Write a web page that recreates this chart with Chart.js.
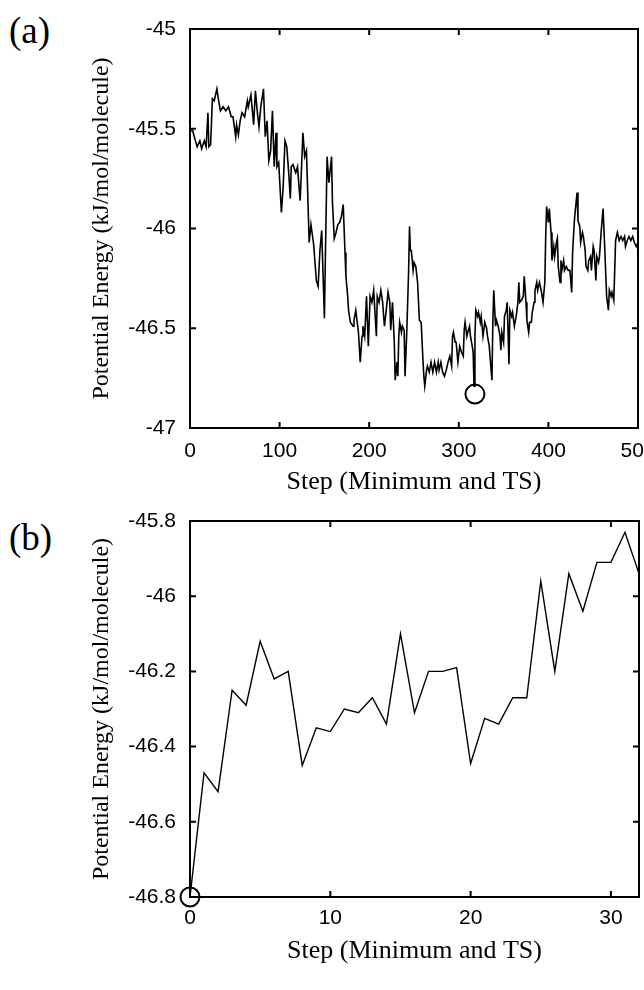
<!DOCTYPE html>
<html>
<head>
<meta charset="utf-8">
<script src="https://cdn.jsdelivr.net/npm/chart.js@4.4.0/dist/chart.umd.min.js"></script>
<style>
  html, body { margin: 0; padding: 0; background: #fff; overflow: hidden; }
  body { width: 644px; height: 990px; position: relative; }
  canvas { position: absolute; left: 0; }
  .tag { position: absolute; left: 9px; font: 37px "Liberation Serif", serif; line-height: 1; color: #000; }
</style>
</head>
<body>
<div class="tag" style="top:12px">(a)</div>
<div class="tag" style="top:519px">(b)</div>
<canvas id="panelA" width="700" height="500" style="top:0"></canvas>
<canvas id="panelB" width="700" height="500" style="top:480px"></canvas>
<script>
// (a) energy along the path
const stepA = [0,3,6,8,11,13,16,18,20,21,23,25,27,30,32,34,37,40,43,46,48,51,52,54,56,58,61,64,65,68,71,73,75,77,79,82,84,86,88,90,92,94,96,97,99,
  102,104,106,108,110,112,113,115,118,120,122,123,126,128,130,133,135,138,139,141,143,145,147,150,151,153,155,158,159,161,163,165,167,169,171,173,174,176,177,179,182,183,185,188,190,192,193,195,197,199,
  201,203,205,208,209,211,213,215,217,219,221,223,224,226,228,229,231,232,233,234,236,237,239,240,242,244,245,246,247,249,250,252,254,256,258,260,261,262,264,265,267,269,271,273,275,277,278,280,282,284,286,288,290,292,293,294,296,297,299,
  301,303,305,306,307,309,310,312,313,315,316,317,318,319,321,322,324,325,327,329,331,332,334,335,337,338,339,341,342,344,346,347,348,350,351,353,354,356,357,359,360,362,364,366,367,368,370,372,373,375,376,378,379,381,382,384,385,387,388,390,392,394,396,397,398,
  400,401,403,404,406,407,409,410,411,413,414,415,417,418,420,422,424,426,427,429,430,432,433,435,436,438,439,441,442,444,445,447,448,450,451,453,454,456,457,459,461,463,465,467,468,470,471,473,475,477,479,481,483,485,486,488,490,492,494,496,498,500];
const energyA = [-45.51,-45.51,-45.56,-45.59,-45.56,-45.60,-45.56,-45.59,-45.42,-45.59,-45.58,-45.35,-45.36,-45.30,-45.36,-45.41,-45.39,-45.41,-45.39,-45.44,-45.44,-45.54,-45.48,-45.53,-45.46,-45.42,-45.44,-45.36,-45.39,-45.33,-45.48,-45.31,-45.41,-45.49,-45.39,-45.30,-45.54,-45.46,-45.66,-45.61,-45.41,-45.69,-45.52,-45.69,-45.67,
  -45.92,-45.79,-45.56,-45.59,-45.71,-45.85,-45.69,-45.68,-45.72,-45.69,-45.81,-45.86,-45.52,-45.64,-45.61,-46.07,-45.98,-46.08,-46.14,-46.26,-46.29,-46.11,-46.01,-46.45,-46.17,-45.64,-45.77,-45.64,-45.87,-46.05,-46.02,-45.98,-45.97,-45.94,-45.88,-46.12,-46.24,-46.34,-46.41,-46.47,-46.49,-46.46,-46.41,-46.52,-46.67,-46.54,-46.49,-46.54,-46.34,-46.59,
  -46.34,-46.37,-46.31,-46.54,-46.34,-46.37,-46.31,-46.37,-46.49,-46.41,-46.32,-46.37,-46.51,-46.37,-46.57,-46.76,-46.67,-46.74,-46.54,-46.47,-46.52,-46.49,-46.51,-46.74,-46.51,-46.21,-45.99,-46.11,-46.11,-46.21,-46.17,-46.19,-46.27,-46.46,-46.47,-46.66,-46.74,-46.79,-46.71,-46.69,-46.72,-46.67,-46.72,-46.67,-46.72,-46.67,-46.71,-46.67,-46.72,-46.74,-46.71,-46.67,-46.64,-46.69,-46.54,-46.52,-46.57,-46.57,-46.67,
  -46.59,-46.62,-46.64,-46.51,-46.47,-46.54,-46.52,-46.49,-46.54,-46.59,-46.62,-46.79,-46.54,-46.41,-46.44,-46.42,-46.47,-46.44,-46.54,-46.47,-46.50,-46.54,-46.59,-46.65,-46.76,-46.47,-46.31,-46.49,-46.46,-46.49,-46.54,-46.61,-46.52,-46.57,-46.44,-46.41,-46.37,-46.68,-46.41,-46.44,-46.42,-46.49,-46.44,-46.37,-46.27,-46.37,-46.36,-46.34,-46.24,-46.37,-46.46,-46.52,-46.47,-46.47,-46.42,-46.37,-46.31,-46.27,-46.31,-46.27,-46.31,-46.37,-46.27,-46.04,-45.89,
  -45.97,-45.90,-46.02,-46.16,-46.09,-46.14,-46.07,-46.05,-46.19,-46.27,-46.16,-46.21,-46.16,-46.21,-46.19,-46.21,-46.21,-46.32,-46.12,-45.96,-45.91,-45.82,-45.96,-45.99,-46.07,-46.02,-46.04,-46.11,-46.19,-46.21,-46.16,-46.14,-46.21,-46.09,-46.11,-46.26,-46.14,-46.17,-46.14,-46.01,-45.90,-46.11,-46.34,-46.41,-46.31,-46.34,-46.32,-46.36,-46.06,-46.02,-46.06,-46.04,-46.06,-46.04,-46.09,-46.06,-46.04,-46.06,-46.04,-46.07,-46.09,-46.07];
const markStepA = [318];
const markEnergyA = [-46.83];
const xTicksA = [0, 100, 200, 300, 400, 500];
const yTicksA = [-47, -46.5, -46, -45.5, -45];

// (b) minimum / TS sequence
const stepB = [0,1,2,3,4,5,6,7,8,9,10,11,12,13,14,15,16,17,18,19,20,21,22,23,24,25,26,27,28,29,30,31,32];
const energyB = [-46.80,-46.47,-46.52,-46.25,-46.29,-46.12,-46.22,-46.20,-46.45,-46.35,-46.36,-46.30,-46.31,-46.27,-46.34,-46.10,-46.31,-46.20,-46.20,-46.19,-46.445,-46.325,-46.34,-46.27,-46.27,-45.96,-46.20,-45.94,-46.04,-45.91,-45.91,-45.83,-45.94];
const markStepB = [0];
const markEnergyB = [-46.8];
const xTicksB = [0, 10, 20, 30];
const yTicksB = [-46.8, -46.6, -46.4, -46.2, -46, -45.8];

const tickFont = { family: "'Liberation Sans', Arial, sans-serif", size: 21 };
const fmt = v => String(Number(v.toFixed(2)));

// box around the plot with inward ticks on all four sides
const frame = {
  id: 'frame',
  beforeDatasetsDraw(chart) {
    const { ctx, chartArea: a, scales: { x, y } } = chart;
    ctx.save();
    ctx.strokeStyle = '#000';
    ctx.lineWidth = 2;
    ctx.strokeRect(a.left, a.top, a.right - a.left, a.bottom - a.top);
    ctx.beginPath();
    x.ticks.forEach(t => {
      const p = x.getPixelForValue(t.value);
      ctx.moveTo(p, a.bottom); ctx.lineTo(p, a.bottom - 6);
      ctx.moveTo(p, a.top); ctx.lineTo(p, a.top + 6);
    });
    y.ticks.forEach(t => {
      const p = y.getPixelForValue(t.value);
      ctx.moveTo(a.left, p); ctx.lineTo(a.left + 6, p);
      ctx.moveTo(a.right, p); ctx.lineTo(a.right - 6, p);
    });
    ctx.stroke();
    ctx.restore();
  }
};

function makePanel(id, o) {
  return new Chart(document.getElementById(id), {
    type: 'line',
    data: {
      datasets: [
        {
          data: o.steps.map((s, i) => ({ x: s, y: o.energy[i] })),
          borderColor: '#000', borderWidth: o.lw, pointRadius: 0, tension: 0, fill: false
        },
        {
          data: o.markX.map((s, i) => ({ x: s, y: o.markY[i] })),
          showLine: false, pointRadius: 9.5, pointBorderWidth: 2,
          pointBorderColor: '#000', pointBackgroundColor: 'rgba(0,0,0,0)', clip: false
        }
      ]
    },
    options: {
      responsive: false,
      animation: false,
      events: [],
      layout: { padding: o.pad },
      plugins: { legend: { display: false }, tooltip: { enabled: false } },
      scales: {
        x: {
          type: 'linear', min: o.xmin, max: o.xmax,
          afterBuildTicks: s => { s.ticks = o.xTicks.map(v => ({ value: v })); },
          afterFit: s => { s.height = o.xh; },
          grid: { display: false, drawTicks: false }, border: { display: false },
          ticks: { padding: o.xpad, font: tickFont, color: '#000', autoSkip: false, maxRotation: 0, callback: fmt },
          title: {
            display: true, text: 'Step (Minimum and TS)', color: '#000',
            font: { family: "'Liberation Serif', 'Times New Roman', serif", size: 26, lineHeight: 1 },
            padding: { top: 0, bottom: o.tpad }
          }
        },
        y: {
          type: 'linear', min: o.ymin, max: o.ymax,
          afterBuildTicks: s => { s.ticks = o.yTicks.map(v => ({ value: v })); },
          afterFit: s => { s.width = 190; },
          grid: { display: false, drawTicks: false }, border: { display: false },
          ticks: { padding: 14, font: tickFont, color: '#000', autoSkip: false, callback: fmt },
          title: {
            display: true, text: 'Potential Energy (kJ/mol/molecule)', color: '#000',
            font: { family: "'Liberation Serif', 'Times New Roman', serif", size: 24, lineHeight: 1 },
            padding: { top: 90, bottom: 0 }
          }
        }
      }
    },
    plugins: [frame]
  });
}

makePanel('panelA', {
  steps: stepA, energy: energyA, markX: markStepA, markY: markEnergyA, lw: 1.6,
  xmin: 0, xmax: 500, ymin: -47, ymax: -45, xTicks: xTicksA, yTicks: yTicksA,
  pad: { left: 0, top: 29, right: 62, bottom: 0 }, xh: 72, xpad: 11, tpad: 5
});

makePanel('panelB', {
  steps: stepB, energy: energyB, markX: markStepB, markY: markEnergyB, lw: 1.4,
  xmin: 0, xmax: 32, ymin: -46.8, ymax: -45.8, xTicks: xTicksB, yTicks: yTicksB,
  pad: { left: 0, top: 41, right: 61, bottom: 0 }, xh: 83, xpad: 9, tpad: 16
});
</script>
</body>
</html>
